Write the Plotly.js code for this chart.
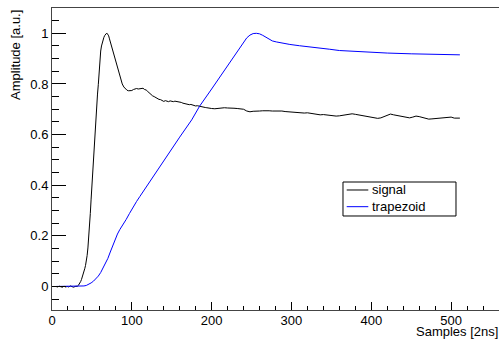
<!DOCTYPE html>
<html>
<head>
<meta charset="utf-8">
<script src="https://cdn.plot.ly/plotly-3.0.1.min.js"></script>
<style>html,body{margin:0;padding:0;background:#fff;overflow:hidden}</style>
</head>
<body>
<div id="chart" style="width:499px;height:340px"></div>
<script>
// signal (black)
const signalX = [5,7,9,11,13,15,17,19,21,23,25,27,29,31,32,33,34,35,36,37,38,39,40,41,42,43,44,45,46,47,48,49,50,51,52,53,54,55,56,57,58,59,60,61,62,63,64,65,66,67,68,69,70,71,72,73,74,75,76,78,80,82,84,86,88,90,92,94,96,98,100,102,104,106,108,110,112,114,116,118,120,122,124,126,128,130,132,134,136,138,140,142,144,146,148,150,152,154,156,158,160,162,164,166,168,170,172,174,176,178,180,182,184,186,188,190,192,194,196,198,200,204,208,212,216,220,224,228,232,236,240,244,248,252,256,260,264,268,272,276,280,284,288,292,296,300,304,308,312,316,320,324,328,332,336,340,344,348,352,356,360,364,368,372,376,380,384,388,392,396,400,404,408,412,416,420,424,428,432,436,440,444,448,452,456,460,464,468,472,476,480,484,488,492,496,500,504,508,511];
const signalY = [0.000,-0.002,0.001,-0.001,-0.003,0.001,-0.002,0.000,-0.002,0.002,-0.001,-0.003,0.000,-0.001,0.001,0.004,0.008,0.014,0.020,0.028,0.037,0.047,0.058,0.070,0.083,0.098,0.122,0.152,0.188,0.225,0.288,0.345,0.400,0.460,0.520,0.570,0.612,0.660,0.718,0.760,0.797,0.850,0.900,0.930,0.950,0.965,0.975,0.984,0.991,0.996,0.999,1.000,0.997,0.990,0.978,0.967,0.955,0.940,0.925,0.903,0.880,0.860,0.838,0.818,0.800,0.788,0.780,0.775,0.773,0.772,0.774,0.778,0.781,0.782,0.780,0.782,0.781,0.783,0.778,0.776,0.770,0.763,0.758,0.753,0.750,0.746,0.742,0.739,0.738,0.735,0.731,0.734,0.732,0.730,0.733,0.731,0.730,0.732,0.731,0.729,0.730,0.727,0.724,0.722,0.721,0.720,0.718,0.719,0.717,0.714,0.713,0.714,0.712,0.711,0.710,0.709,0.707,0.706,0.704,0.703,0.703,0.702,0.704,0.706,0.706,0.705,0.706,0.704,0.703,0.702,0.700,0.693,0.690,0.692,0.694,0.693,0.694,0.695,0.694,0.693,0.694,0.692,0.693,0.691,0.690,0.688,0.686,0.686,0.684,0.685,0.686,0.684,0.683,0.681,0.678,0.679,0.677,0.676,0.675,0.673,0.674,0.676,0.679,0.681,0.682,0.680,0.678,0.677,0.674,0.671,0.670,0.668,0.664,0.666,0.672,0.676,0.681,0.678,0.676,0.673,0.671,0.668,0.666,0.669,0.673,0.671,0.668,0.663,0.661,0.662,0.663,0.664,0.666,0.668,0.670,0.669,0.665,0.664,0.665];

// trapezoid (blue)
const trapX = [5,10,15,20,25,30,35,40,43,46,49,52,55,58,61,64,67,70,73,76,79,82,85,89,93,97,101,106,110,114,118,122,130,140,148,160,175,185,200,212,225,235,240,244,248,252,256,260,264,268,272,276,281,290,298,310,323,336,348,360,380,400,420,450,480,511];
const trapY = [0.000,0.000,0.001,0.000,0.000,0.000,0.001,0.002,0.004,0.008,0.014,0.021,0.030,0.041,0.055,0.072,0.091,0.111,0.136,0.162,0.186,0.207,0.225,0.243,0.265,0.288,0.311,0.336,0.355,0.374,0.394,0.414,0.452,0.498,0.535,0.590,0.658,0.7125,0.780,0.835,0.895,0.942,0.965,0.982,0.993,0.999,1.000,0.998,0.992,0.984,0.976,0.970,0.966,0.960,0.956,0.951,0.947,0.942,0.937,0.932,0.928,0.925,0.922,0.919,0.917,0.915];

const seriesNames = ["signal", "trapezoid"];
const seriesColors = ["#000000", "#0000ff"];
const xTicks = [0,100,200,300,400,500];
const yTicks = [0,0.2,0.4,0.6,0.8,1];
const yTickText = ["0","0.2","0.4","0.6","0.8","1"];

const font = {family: "Liberation Sans, Arial, Helvetica, sans-serif", size: 13, color: "#000"};

const traces = [
  {x: signalX, y: signalY, type: "scatter", mode: "lines", name: seriesNames[0],
   line: {color: seriesColors[0], width: 1}, showlegend: false},
  {x: trapX, y: trapY, type: "scatter", mode: "lines", name: seriesNames[1],
   line: {color: seriesColors[1], width: 1}, showlegend: false}
];

// legend drawn in paper coordinates (ROOT-style TLegend)
const legBox = {x0: 0.651, x1: 0.9038, y0: 0.3113, y1: 0.4238};
const legRows = [0.3974, 0.3421];
const shapes = [
  {type: "rect", xref: "paper", yref: "paper", x0: legBox.x0, x1: legBox.x1, y0: legBox.y0, y1: legBox.y1,
   line: {color: "#000", width: 1}, fillcolor: "#fff", layer: "above"}
];
const annotations = [
  {text: "Samples [2ns]", xref: "paper", yref: "paper", x: 1, y: -0.0993,
   xanchor: "right", yanchor: "bottom", showarrow: false, font: font, borderpad: 0},
  {text: "Amplitude [a.u.]", xref: "paper", yref: "paper", x: -0.0828, y: 1,
   xanchor: "center", yanchor: "top", textangle: -90, showarrow: false, font: font}
];
seriesNames.forEach((n, i) => {
  shapes.push({type: "line", xref: "paper", yref: "paper", x0: 0.6593, x1: 0.7076,
               y0: legRows[i], y1: legRows[i], line: {color: seriesColors[i], width: 1}, layer: "above"});
  annotations.push({text: n, xref: "paper", yref: "paper", x: 0.7115, y: legRows[i],
                    xanchor: "left", yanchor: "middle", showarrow: false, font: font});
});

const layout = {
  width: 499, height: 340,
  margin: {l: 52, r: 0, t: 8, b: 30, pad: 0},
  paper_bgcolor: "#fff", plot_bgcolor: "#fff",
  font: font,
  showlegend: false,
  xaxis: {range: [0, 560], tickvals: xTicks, ticks: "inside", ticklen: 8, tickwidth: 1,
          tickcolor: "#000", showline: true, linecolor: "#444", linewidth: 1, mirror: true,
          showgrid: false, zeroline: false, tickfont: font, ticklabelstandoff: -2,
          minor: {dtick: 20, tick0: 0, ticks: "inside", ticklen: 4, tickcolor: "#000", showgrid: false}},
  yaxis: {range: [-0.093, 1.1], tickvals: yTicks, ticktext: yTickText, ticks: "inside", ticklen: 14, tickwidth: 1,
          tickcolor: "#000", showline: true, linecolor: "#444", linewidth: 1,
          showgrid: false, zeroline: false, tickfont: font,
          minor: {dtick: 0.05, tick0: 0, ticks: "inside", ticklen: 7, tickcolor: "#000", showgrid: false}},
  shapes: shapes,
  annotations: annotations
};

Plotly.newPlot("chart", traces, layout, {displayModeBar: false, staticPlot: true});
</script>
</body>
</html>
